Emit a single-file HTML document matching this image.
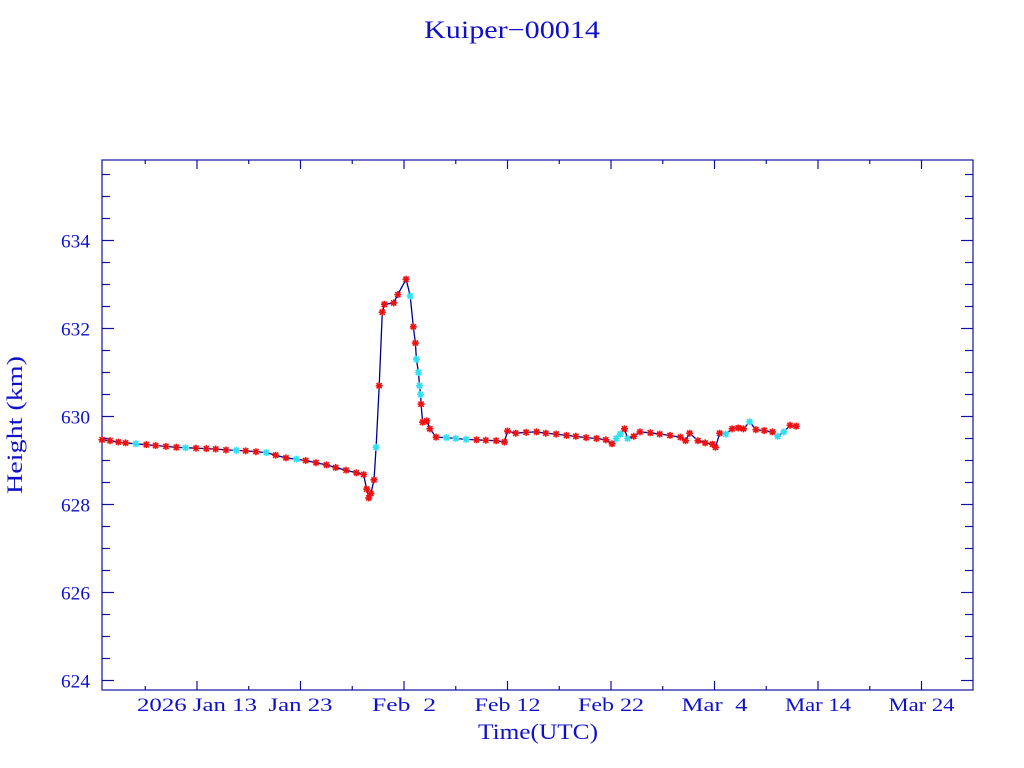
<!DOCTYPE html>
<html><head><meta charset="utf-8"><style>
body{margin:0;background:#fff;}
svg{display:block;font-family:"Liberation Serif",serif;}
</style></head><body>
<svg id="chart" width="1024" height="768" viewBox="0 0 1024 768">
<text x="512" y="38" text-anchor="middle" font-size="25" fill="#1010c8" textLength="176" lengthAdjust="spacingAndGlyphs">Kuiper−00014</text>
<rect x="102" y="160" width="871" height="530" fill="none" stroke="#1010a0" stroke-width="1.2"/>
<g id="axes"></g>
<g id="series"></g>
<text x="538" y="739" text-anchor="middle" font-size="22" fill="#1010c8" textLength="120" lengthAdjust="spacingAndGlyphs">Time(UTC)</text>
<text transform="translate(22,425) rotate(-90)" text-anchor="middle" font-size="22" fill="#1010c8" textLength="138" lengthAdjust="spacingAndGlyphs">Height (km)</text>
</svg>
<script>
// days since 2026 Jan 13
const days=[-9.18,-8.4,-7.6,-6.9,-5.9,-4.9,-4.0,-3.0,-2.0,-1.1,-0.1,0.9,1.8,2.8,3.8,4.7,5.7,6.7,7.6,8.6,9.6,10.5,11.5,12.5,13.4,14.4,15.4,16.1,16.4,16.6,16.8,17.1,17.3,17.6,17.9,18.1,19.0,19.4,20.2,20.6,20.9,21.1,21.2,21.4,21.5,21.6,21.65,21.8,22.2,22.5,23.1,24.1,25.0,26.0,27.0,27.9,28.9,29.7,30.0,30.8,31.8,32.8,33.7,34.7,35.7,36.6,37.6,38.6,39.5,40.1,40.5,40.9,41.3,41.6,42.2,42.8,43.8,44.7,45.7,46.7,47.2,47.6,48.4,49.1,49.8,50.1,50.5,51.1,51.7,52.3,52.8,53.4,54.0,54.8,55.6,56.1,56.7,57.3,57.9];
const heights=[629.47,629.45,629.42,629.40,629.38,629.36,629.34,629.32,629.30,629.29,629.28,629.27,629.26,629.24,629.23,629.22,629.20,629.18,629.12,629.06,629.03,629.00,628.95,628.90,628.84,628.78,628.72,628.68,628.35,628.15,628.25,628.56,629.30,630.70,632.37,632.55,632.58,632.77,633.12,632.74,632.04,631.67,631.30,631.00,630.70,630.50,630.28,629.87,629.90,629.72,629.53,629.52,629.50,629.48,629.47,629.46,629.45,629.42,629.67,629.62,629.64,629.65,629.62,629.60,629.57,629.55,629.52,629.50,629.47,629.38,629.50,629.60,629.72,629.50,629.55,629.65,629.63,629.60,629.57,629.53,629.45,629.62,629.45,629.40,629.37,629.30,629.62,629.60,629.72,629.74,629.72,629.88,629.70,629.68,629.65,629.55,629.65,629.80,629.78];
const cyanIdx=[4,9,14,17,20,32,39,42,43,44,45,51,52,53,70,71,73,87,91,95,96];
const yTicks=[624,626,628,630,632,634];
const xTickDays=[0,10,20,30,40,50,60,70];
const xTickLabels=["2026 Jan 13","Jan 23","Feb  2","Feb 12","Feb 22","Mar  4","Mar 14","Mar 24"];
const xTickWidths=[120,64,64,66,66,66,66,66];

const NS="http://www.w3.org/2000/svg";
const X=d=>197+d*10.35;
const Y=v=>680.5-(v-624)*44;
const C="#1010a0";
function mk(tag,attrs,parent){const e=document.createElementNS(NS,tag);for(const k in attrs)e.setAttribute(k,attrs[k]);parent.appendChild(e);return e;}
const ax=document.getElementById('axes');
for(let v=623.5;v<=636;v+=0.5){const y=Y(v);if(y<160||y>690)continue;const maj=Math.abs(v-Math.round(v/2)*2)<1e-6;const L=maj?12:8;
 const t=mk('line',{x1:102,x2:102+L,y1:y,y2:y,stroke:C,'stroke-width':1.2},ax);
 
 
 const t2=mk('line',{x1:973,x2:973-L,y1:y,y2:y,stroke:C,'stroke-width':1.2},ax);
 
 }
yTicks.forEach(v=>{const t=mk('text',{x:90,y:Y(v)+7,'text-anchor':'end','font-size':19,fill:'#1010c8',textLength:29,lengthAdjust:'spacingAndGlyphs'},ax);t.textContent=v;
 
 });
for(let d=-5;d<=75;d+=5){const x=X(d);if(x<102||x>973)continue;const maj=d%10===0;const L=maj?9:4;
 const t=mk('line',{x1:x,x2:x,y1:690,y2:690-L,stroke:C,'stroke-width':1.2},ax);
 
 
 const t2=mk('line',{x1:x,x2:x,y1:160,y2:160+L,stroke:C,'stroke-width':1.2},ax);
 
 }
xTickDays.forEach((d,i)=>{const t=mk('text',{x:X(d),y:711,'text-anchor':'middle','font-size':19,fill:'#1010c8',textLength:xTickWidths[i],lengthAdjust:'spacingAndGlyphs'},ax);t.style.whiteSpace='pre';t.textContent=xTickLabels[i];
 
 });
const sg=document.getElementById('series');
const pts=days.map((d,i)=>X(d).toFixed(1)+','+Y(heights[i]).toFixed(1)).join(' ');
const line=mk('polyline',{points:pts,fill:'none',stroke:'#000090','stroke-width':1.3},sg);


days.forEach((d,i)=>{const x=X(d),y=Y(heights[i]);const col=cyanIdx.includes(i)?'#30e0f0':'#f01010';
 const g=mk('path',{d:`M${x-3.5},${y}H${x+3.5}M${x},${y-3.5}V${y+3.5}M${x-2.6},${y-2.6}L${x+2.6},${y+2.6}M${x-2.6},${y+2.6}L${x+2.6},${y-2.6}`,stroke:col,'stroke-width':1.6},sg);
 
 });
</script>
</body></html>
